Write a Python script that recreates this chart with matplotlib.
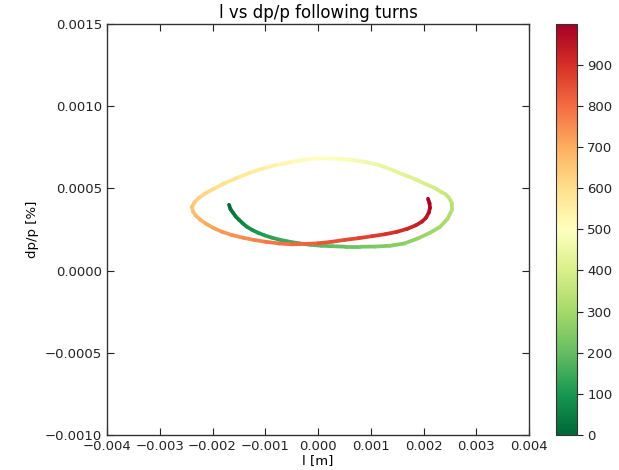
import numpy as np
import matplotlib
matplotlib.use("Agg")
import matplotlib.pyplot as plt
from matplotlib.collections import LineCollection

# turn number of each sample along the tracked particle
turns = [0, 12, 25, 38, 50, 62, 75, 88, 100, 112, 125, 138, 150, 162, 175,
         188, 200, 212, 225, 238, 250, 262, 275, 288, 300, 312, 325, 338,
         350, 362, 375, 388, 400, 412, 425, 438, 450, 462, 475, 488, 500,
         512, 525, 538, 550, 562, 575, 588, 600, 612, 625, 638, 650, 662,
         675, 688, 700, 712, 725, 738, 750, 762, 775, 788, 800, 812, 825,
         838, 850, 862, 875, 888, 900, 912, 925, 938, 950, 962, 975, 988,
         999]

# longitudinal position l, in units of 1e-3 m
l_mm = [-1.687, -1.659, -1.611, -1.558, -1.498, -1.426, -1.346, -1.247,
        -1.137, -1.012, -0.872, -0.709, -0.531, -0.345, -0.152, 0.063,
        0.284, 0.531, 0.796, 1.081, 1.365, 1.640, 1.896, 2.123, 2.313,
        2.455, 2.540, 2.536, 2.483, 2.417, 2.332, 2.199, 2.028, 1.829,
        1.611, 1.384, 1.137, 0.872, 0.607, 0.322, 0.038, -0.246, -0.531,
        -0.806, -1.062, -1.318, -1.555, -1.773, -1.972, -2.133, -2.256,
        -2.341, -2.389, -2.370, -2.313, -2.227, -2.123, -1.981, -1.820,
        -1.630, -1.422, -1.208, -0.986, -0.739, -0.493, -0.246, 0.000,
        0.256, 0.512, 0.768, 1.024, 1.270, 1.498, 1.693, 1.858, 1.972,
        2.047, 2.100, 2.123, 2.114, 2.085]

# momentum deviation dp/p, in units of 1e-3
dp_milli = [0.400, 0.373, 0.352, 0.328, 0.309, 0.287, 0.266, 0.247, 0.230,
            0.214, 0.200, 0.186, 0.175, 0.165, 0.157, 0.151, 0.148, 0.145,
            0.145, 0.146, 0.151, 0.165, 0.196, 0.230, 0.266, 0.315, 0.370,
            0.412, 0.443, 0.464, 0.479, 0.504, 0.528, 0.558, 0.585, 0.615,
            0.644, 0.662, 0.674, 0.681, 0.683, 0.675, 0.659, 0.641, 0.619,
            0.592, 0.561, 0.531, 0.498, 0.470, 0.443, 0.415, 0.388, 0.359,
            0.333, 0.308, 0.285, 0.259, 0.236, 0.216, 0.200, 0.186, 0.175,
            0.165, 0.160, 0.162, 0.166, 0.175, 0.187, 0.197, 0.209, 0.221,
            0.236, 0.254, 0.276, 0.298, 0.321, 0.352, 0.382, 0.409, 0.437]

x_ticks = [-0.004, -0.003, -0.002, -0.001, 0.0, 0.001, 0.002, 0.003, 0.004]
y_ticks = [-0.0010, -0.0005, 0.0000, 0.0005, 0.0010, 0.0015]
cbar_ticks = [0, 100, 200, 300, 400, 500, 600, 700, 800, 900]

fs = 9.5

fig = plt.figure(figsize=(6.19, 4.70), dpi=100)
ax = fig.add_axes([0.1729, 0.0745, 0.6817, 0.8745])
cax = fig.add_axes([0.898, 0.0745, 0.034, 0.8745])

# colour each small segment by the turn number
pts = np.column_stack([np.array(l_mm) * 1e-3, np.array(dp_milli) * 1e-3])
segs = np.stack([pts[:-1], pts[1:]], axis=1)
t = np.asarray(turns, dtype=float)
lc = LineCollection(segs, cmap="RdYlGn_r", norm=plt.Normalize(0, 999),
                    linewidths=2.7, capstyle="round", joinstyle="round")
lc.set_array(0.5 * (t[:-1] + t[1:]))
ax.add_collection(lc)

ax.set_xlim(-0.004, 0.004)
ax.set_ylim(-0.001, 0.0015)
ax.set_xticks(x_ticks)
ax.set_yticks(y_ticks)
ax.set_xticklabels([f"{v:.3f}".replace("-", "\u2212") for v in x_ticks])
ax.set_yticklabels([f"{v:.4f}".replace("-", "\u2212") for v in y_ticks])
ax.tick_params(direction="in", length=5, width=0.8, top=True, right=True,
               labelsize=fs, colors="#222222")
for sp in ax.spines.values():
    sp.set_color("#333333")
    sp.set_linewidth(1.0)

ax.set_title("l vs dp/p following turns", fontsize=12, pad=4)
ax.set_xlabel("l [m]", fontsize=fs, labelpad=1)
ax.set_ylabel("dp/p [%]", fontsize=fs, labelpad=4)

cb = fig.colorbar(lc, cax=cax, ticks=cbar_ticks)
cb.outline.set_edgecolor("#333333")
cb.ax.tick_params(direction="out", length=4, width=0.8, labelsize=fs,
                  colors="#222222")

fig.savefig("out.png", dpi=100)
